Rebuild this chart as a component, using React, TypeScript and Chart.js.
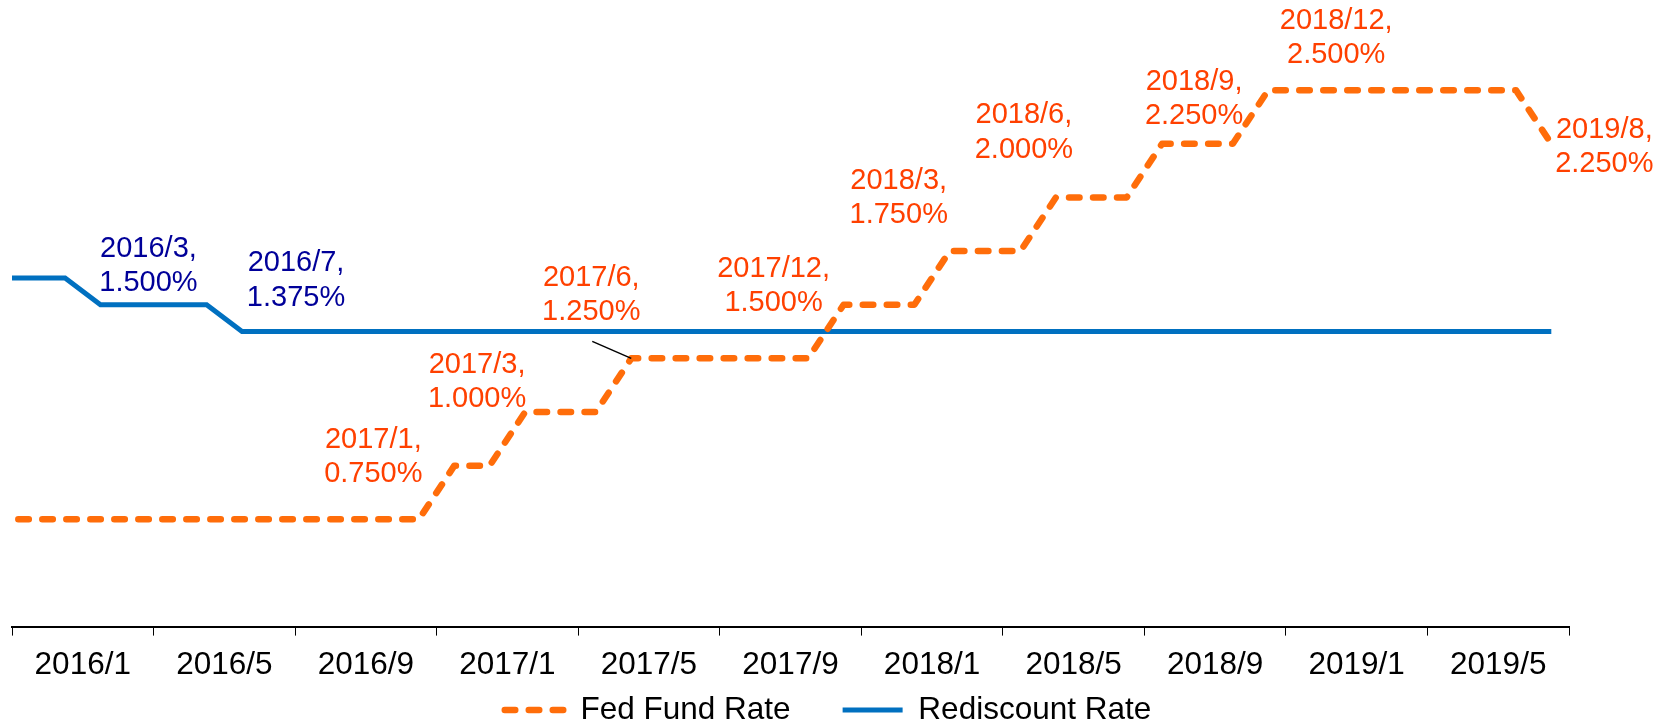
import React, { useEffect, useRef } from "react";
import { Chart, registerables } from "chart.js";

Chart.register(...registerables);

// Monthly categories (2015/12 lies just off the left edge of the plot)
const months = [
  "2015/12",
  "2016/1", "2016/2", "2016/3", "2016/4", "2016/5", "2016/6", "2016/7", "2016/8", "2016/9", "2016/10", "2016/11", "2016/12",
  "2017/1", "2017/2", "2017/3", "2017/4", "2017/5", "2017/6", "2017/7", "2017/8", "2017/9", "2017/10", "2017/11", "2017/12",
  "2018/1", "2018/2", "2018/3", "2018/4", "2018/5", "2018/6", "2018/7", "2018/8", "2018/9", "2018/10", "2018/11", "2018/12",
  "2019/1", "2019/2", "2019/3", "2019/4", "2019/5", "2019/6", "2019/7", "2019/8",
];

const tickLabels = [
  "2016/1", "2016/5", "2016/9", "2017/1", "2017/5", "2017/9",
  "2018/1", "2018/5", "2018/9", "2019/1", "2019/5",
];

const fedFundRate = [
  0.5,
  0.5, 0.5, 0.5, 0.5, 0.5, 0.5, 0.5, 0.5, 0.5, 0.5, 0.5, 0.5,
  0.75, 0.75, 1.0, 1.0, 1.0, 1.25, 1.25, 1.25, 1.25, 1.25, 1.25, 1.5,
  1.5, 1.5, 1.75, 1.75, 1.75, 2.0, 2.0, 2.0, 2.25, 2.25, 2.25, 2.5,
  2.5, 2.5, 2.5, 2.5, 2.5, 2.5, 2.5, 2.25,
];

const rediscountRate = [
  1.625,
  1.625, 1.625, 1.5, 1.5, 1.5, 1.5, 1.375, 1.375, 1.375, 1.375, 1.375, 1.375,
  1.375, 1.375, 1.375, 1.375, 1.375, 1.375, 1.375, 1.375, 1.375, 1.375, 1.375, 1.375,
  1.375, 1.375, 1.375, 1.375, 1.375, 1.375, 1.375, 1.375, 1.375, 1.375, 1.375, 1.375,
  1.375, 1.375, 1.375, 1.375, 1.375, 1.375, 1.375, 1.375,
];

const fedLabelMonths = ["2017/1", "2017/3", "2017/6", "2017/12", "2018/3", "2018/6", "2018/9", "2018/12", "2019/8"];
const rediscountLabelMonths = ["2016/3", "2016/7"];

const FONT = "'Liberation Sans', Arial, Helvetica, sans-serif";
const FED_COLOR = "#FF6D0A";
const FED_TEXT = "#FF4000";
const RED_COLOR = "#0070C0";
const RED_TEXT = "#000099";

// label placement (offset of label block centre from its point, px)
const labelOffsets: Record<string, [number, number]> = {
  "r:2016/3": [48, -39],
  "r:2016/7": [54, -51],
  "f:2017/1": [-81, -9],
  "f:2017/3": [-48, -30],
  "f:2017/6": [-40, -63],
  "f:2017/12": [-70, -19],
  "f:2018/3": [-51, -53],
  "f:2018/6": [-32, -65],
  "f:2018/9": [32, -45],
  "f:2018/12": [68, -52],
  "f:2019/8": [53, 3],
};
const leaderLines: Record<string, [number, number]> = {
  "f:2017/6": [-39, -17],
};

const pointLabelPlugin = {
  id: "pointLabelPlugin",
  afterDatasetsDraw(chart: any) {
    const ctx = chart.ctx;
    ctx.save();
    ctx.font = `29px ${FONT}`;
    ctx.textAlign = "center";
    ctx.textBaseline = "middle";
    const groups = [
      { ds: 0, key: "f", list: fedLabelMonths, color: FED_TEXT },
      { ds: 1, key: "r", list: rediscountLabelMonths, color: RED_TEXT },
    ];
    groups.forEach((g) => {
      const meta = chart.getDatasetMeta(g.ds);
      const values = chart.data.datasets[g.ds].data;
      g.list.forEach((m) => {
        const idx = months.indexOf(m);
        const pt = meta.data[idx];
        if (!pt) return;
        const id = `${g.key}:${m}`;
        const off = labelOffsets[id] || [0, -40];
        const lead = leaderLines[id];
        if (lead) {
          ctx.beginPath();
          ctx.strokeStyle = "#000";
          ctx.lineWidth = 1.5;
          ctx.moveTo(pt.x + lead[0], pt.y + lead[1]);
          ctx.lineTo(pt.x, pt.y);
          ctx.stroke();
        }
        const cx = pt.x + off[0];
        const cy = pt.y + off[1];
        ctx.fillStyle = g.color;
        ctx.fillText(`${m},`, cx, cy - 17.1);
        ctx.fillText(`${Number(values[idx]).toFixed(3)}%`, cx, cy + 17.1);
      });
    });
    ctx.restore();
  },
};

export default function App() {
  const canvasRef = useRef<HTMLCanvasElement | null>(null);

  useEffect(() => {
    const canvas = canvasRef.current;
    if (!canvas) return;
    const chart = new Chart(canvas, {
      type: "line",
      data: {
        labels: months,
        datasets: [
          {
            label: "Fed Fund Rate",
            data: fedFundRate,
            borderColor: FED_COLOR,
            backgroundColor: FED_COLOR,
            borderWidth: 6.5,
            borderDash: [10.5, 13.5],
            borderCapStyle: "round",
            borderJoinStyle: "round",
            pointRadius: 0,
            pointHoverRadius: 0,
            tension: 0,
            fill: false,
            clip: { left: 0, right: false, top: false, bottom: false } as any,
          },
          {
            label: "Rediscount Rate",
            data: rediscountRate,
            borderColor: RED_COLOR,
            backgroundColor: RED_COLOR,
            borderWidth: 5,
            borderCapStyle: "butt",
            borderJoinStyle: "miter",
            pointRadius: 0,
            pointHoverRadius: 0,
            tension: 0,
            fill: false,
            clip: { left: 0, right: false, top: false, bottom: false } as any,
          },
        ],
      },
      options: {
        animation: false,
        responsive: true,
        maintainAspectRatio: false,
        layout: { padding: { left: 0, right: 16, top: 0, bottom: -10.75 } },
        plugins: {
          tooltip: { enabled: false },
          legend: {
            display: true,
            position: "bottom",
            align: "center",
            labels: {
              usePointStyle: true,
              pointStyle: "line",
              pointStyleWidth: 60,
              padding: 52,
              color: "#000",
              font: { size: 31.5, family: FONT },
              generateLabels: (chart: any) => {
                const items = Chart.defaults.plugins.legend.labels.generateLabels(chart);
                items.forEach((it: any) => {
                  const ds = chart.data.datasets[it.datasetIndex];
                  it.pointStyle = "line";
                  it.strokeStyle = ds.borderColor;
                  it.fillStyle = ds.borderColor;
                  it.lineWidth = ds.borderWidth;
                  it.lineDash = ds.borderDash || [];
                  it.lineDashOffset = 0;
                  it.lineCap = ds.borderCapStyle;
                  it.fontColor = "#000";
                });
                return items;
              },
            },
          },
        },
        scales: {
          x: {
            type: "category",
            display: false,
            offset: true,
            min: "2016/1",
            max: "2019/8",
          },
          x2: {
            type: "category",
            position: "bottom",
            labels: tickLabels,
            offset: true,
            grid: {
              display: true,
              drawOnChartArea: false,
              drawTicks: true,
              tickLength: 9,
              offset: true,
              color: "#000",
              lineWidth: 1,
            },
            border: { display: true, color: "#000", width: 2 },
            ticks: {
              autoSkip: false,
              maxRotation: 0,
              minRotation: 0,
              mirror: true,
              padding: -54,
              color: "#000",
              font: { size: 31.5, family: FONT, lineHeight: 1 },
            },
            afterFit: (s: any) => {
              s.height = 15.65;
            },
          },
          y: {
            type: "linear",
            position: "left",
            min: 0,
            max: 2.92,
            ticks: { display: false },
            grid: { display: false },
            border: { display: false },
            afterFit: (s: any) => {
              s.width = 12;
            },
          },
          yR: {
            type: "linear",
            position: "right",
            ticks: { display: false },
            grid: { display: false },
            border: { display: false },
            afterFit: (s: any) => {
              s.width = 87;
            },
          },
        },
      },
      plugins: [pointLabelPlugin],
    });
    return () => chart.destroy();
  }, []);

  return (
    <div
      style={{
        position: "absolute",
        left: 0,
        top: 0,
        width: "1672px",
        height: "725px",
        background: "#fff",
      }}
    >
      <canvas ref={canvasRef} />
    </div>
  );
}
